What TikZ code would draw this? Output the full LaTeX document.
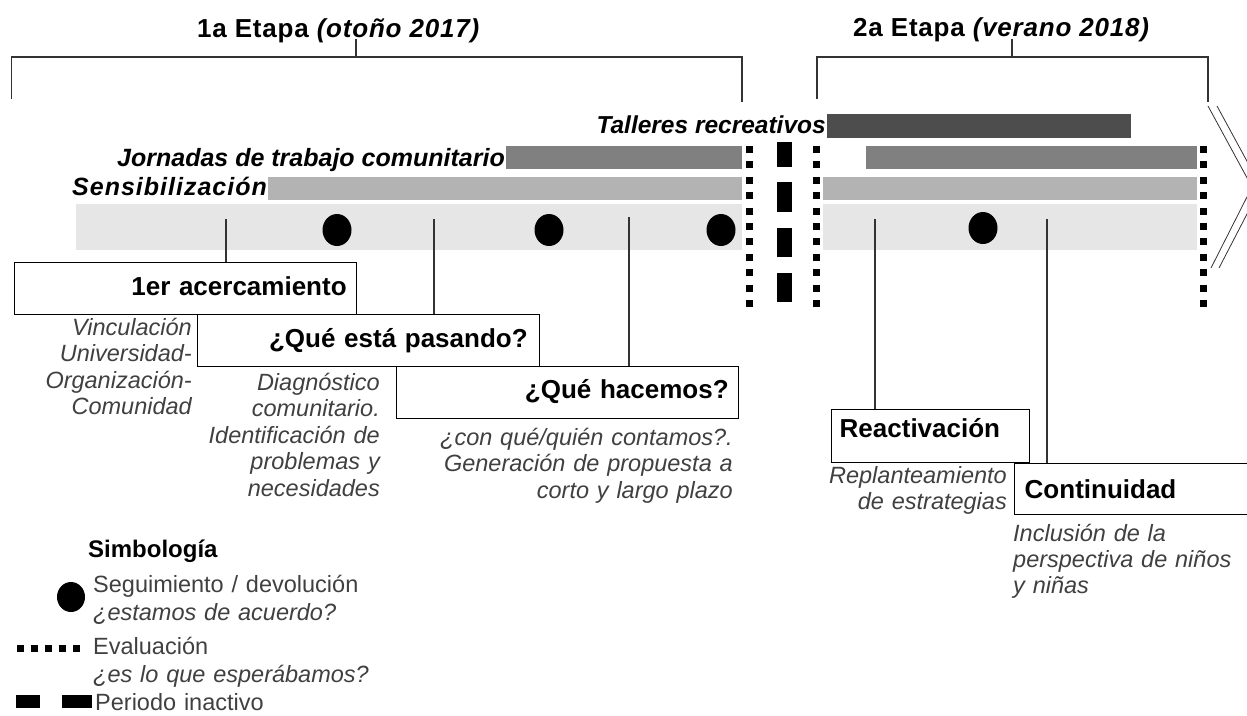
\documentclass[tikz,border=0pt]{standalone}
\usepackage{fontspec}
\setmainfont{Liberation Sans}
\definecolor{txtgray}{HTML}{404040}
\definecolor{linec}{HTML}{333333}
\definecolor{barA}{HTML}{4D4D4D}
\definecolor{barB}{HTML}{808080}
\definecolor{barC}{HTML}{B3B3B3}
\definecolor{bandc}{HTML}{E6E6E6}
\begin{document}
\begin{tikzpicture}[x=1pt,y=-1pt,
  box/.style={draw=black, line width=1.4pt, fill=white, inner ysep=0pt,
    minimum height=52pt, text height=19pt, text depth=5pt,
    font=\fontsize{26}{30}\selectfont\bfseries},
  desc/.style={inner sep=0pt, text=txtgray, text width=330pt,
    font=\fontsize{23.5}{26.5}\selectfont\itshape},
  legtxt/.style={inner sep=0pt, text=txtgray, text width=330pt, align=left,
    font=\fontsize{23.5}{28}\selectfont},
  conn/.style={draw=linec, line width=1.4pt},
  title/.style={inner sep=0pt, font=\fontsize{26}{30}\selectfont\bfseries\addfontfeatures{LetterSpace=3}},
  rowlbl/.style={inner sep=0pt, font=\fontsize{25}{30}\selectfont\bfseries\itshape},
  evaldots/.style={draw=black, line width=7pt, dash pattern=on 7pt off 8.4pt},
  dot/.style={fill=black}
]
\useasboundingbox (0,0) rectangle (1247,715);
\clip (0,0) rectangle (1247,715);

% titles and brackets
\node[title, anchor=base west] (t1) at (197,37) {1a Etapa \textit{(otoño 2017)}};
\node[title, anchor=base west] (t2) at (853,36) {2a Etapa \textit{(verano 2018)}};
\draw[conn] (11.7,99) -- (11.7,57) -- (742,57) -- (742,102);
\draw[conn] (356,57) -- (356,39);
\draw[conn] (817,99) -- (817,57) -- (1208,57) -- (1208,102);
\draw[conn] (1012,57) -- (1012,39);

% chevron
\draw[draw=linec, line width=0.8pt] (1208,106) -- (1252,187) -- (1211,268);
\draw[draw=linec, line width=0.8pt] (1217,106) -- (1261,187) -- (1219,268);

% row labels
\node[rowlbl, anchor=base east, font=\fontsize{24.5}{30}\selectfont\bfseries\itshape] (lt) at (826,133) {Talleres recreativos};
\node[rowlbl, anchor=base east] (lj) at (505,166) {Jornadas de trabajo comunitario};
\node[rowlbl, anchor=base east, font=\fontsize{25}{30}\selectfont\bfseries\itshape\addfontfeatures{LetterSpace=4}] (ls) at (267,195) {Sensibilización};

% bars
\fill[barA] (827,114) rectangle (1131,138);
\fill[barB] (506,146) rectangle (742,169);
\fill[barB] (866,146) rectangle (1197,169);
\fill[barC] (268,177) rectangle (742,200);
\fill[barC] (823,177) rectangle (1197,200);
\fill[bandc] (76,204) rectangle (742,250);
\fill[bandc] (823,204) rectangle (1197,250);

% follow-up dots
\fill[dot] (337,230) ellipse [x radius=14.5pt, y radius=16pt];
\fill[dot] (549,230) ellipse [x radius=14.5pt, y radius=16pt];
\fill[dot] (721,230) ellipse [x radius=14.5pt, y radius=16pt];
\fill[dot] (983,228) ellipse [x radius=14.5pt, y radius=16pt];

% evaluation lines
\draw[evaldots] (749.5,146) -- (749.5,308);
\draw[evaldots] (816.5,146) -- (816.5,308);
\draw[evaldots] (1203,146) -- (1203,308);

% inactive period
\fill[black] (777,142) rectangle (792,167);
\fill[black] (777,182) rectangle (792,212);
\fill[black] (777,228) rectangle (792,257);
\fill[black] (777,273) rectangle (792,302);

% boxes
\node[box, anchor=north west, text width=322pt, inner xsep=10pt, align=right] (b1) at (14,262) {1er acercamiento};
\node[box, anchor=north west, text width=318pt, inner xsep=12pt, align=right] (b2) at (197,314) {¿Qué está pasando?};
\node[box, anchor=north west, text width=322pt, inner xsep=10pt, align=right, text depth=7pt] (b3) at (396,366) {¿Qué hacemos?};
\node[box, anchor=north west, text width=182pt, inner xsep=8pt, align=left, minimum height=53pt, text height=19pt, text depth=16pt] (b4) at (831,409) {Reactivación};
\node[box, anchor=north west, text width=280pt, inner xsep=10pt, align=left, minimum height=51pt, text height=21pt, text depth=2pt] (b5) at (1014,463) {Continuidad};

% connectors
\coordinate (c1) at (226,219);
\coordinate (c2) at (434,219);
\coordinate (c3) at (629,217);
\coordinate (c4) at (875,219);
\coordinate (c5) at (1047,219);
\draw[conn] (c1) -- (b1.north -| c1);
\draw[conn] (c2) -- (b2.north -| c2);
\draw[conn] (c3) -- (b3.north -| c3);
\draw[conn] (c4) -- (b4.north -| c4);
\draw[conn] (c5) -- (b5.north -| c5);

% descriptions
\node[desc, anchor=base east, align=right] (d1) at (192,335) {Vinculación\\Universidad-\\Organización-\\Comunidad};
\node[desc, anchor=base east, align=right] (d2) at (380,390) {Diagnóstico\\comunitario.\\Identificación de\\problemas y\\necesidades};
\node[desc, anchor=base east, align=right] (d3) at (733,445) {¿con qué/quién contamos?.\\Generación de propuesta a\\corto y largo plazo};
\node[desc, anchor=base east, align=right] (d4) at (1007,483) {Replanteamiento\\de estrategias};
\node[desc, anchor=base west, align=left, font=\fontsize{23.5}{26}\selectfont\itshape] (d5) at (1013,541) {Inclusión de la\\perspectiva de niños\\y niñas};

% legend
\node[inner sep=0pt, anchor=base west, font=\fontsize{24}{28}\selectfont\bfseries] (lg) at (88,557) {Simbología};
\fill[dot] (71,597) ellipse [x radius=14pt, y radius=15pt];
\node[legtxt, anchor=base west] (l1) at (93,592) {Seguimiento / devolución\\\textit{¿estamos de acuerdo?}};
\draw[draw=black, line width=7pt, dash pattern=on 7pt off 7pt] (17,648) -- (80,648);
\node[legtxt, anchor=base west] (l2) at (93,654) {Evaluación\\\textit{¿es lo que esperábamos?}};
\fill[black] (16,695) rectangle (40,708);
\fill[black] (62,695) rectangle (92,708);
\node[legtxt, anchor=base west] (l3) at (95,710) {Periodo inactivo};
\end{tikzpicture}
\end{document}
